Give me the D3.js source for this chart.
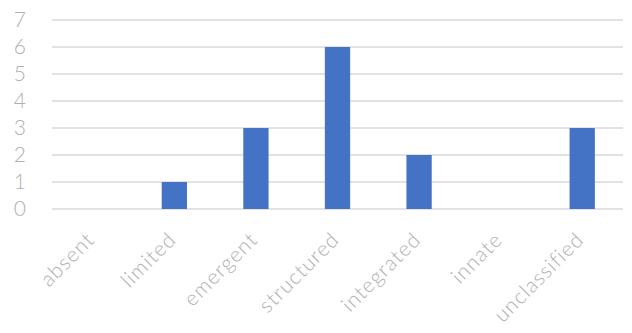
<!DOCTYPE html>
<html>
<head>
<meta charset="utf-8">
<script src="https://cdn.jsdelivr.net/npm/d3@7"></script>
<style>
  body { margin: 0; background: #fff; }
  text { font-family: "Lato", "Open Sans", sans-serif; font-weight: 300; }
</style>
</head>
<body>
<script>
var categories = ["absent", "limited", "emergent", "structured", "integrated", "innate", "unclassified"];
var counts = [0, 1, 3, 6, 2, 0, 3];
var yTicks = [0, 1, 2, 3, 4, 5, 6, 7];

var w = 632, h = 333;
var plotLeft = 52, plotRight = 623, plotTop = 20, plotBottom = 209;

var svg = d3.select("body").append("svg")
  .attr("width", w)
  .attr("height", h);

var x = d3.scaleBand().domain(categories).range([plotLeft, plotRight]).paddingInner(0.69).paddingOuter(0.345);
var y = d3.scaleLinear().domain([0, 7]).range([plotBottom, plotTop]);

// gridlines
svg.append("g").selectAll("line")
  .data(yTicks)
  .enter()
  .append("line")
  .attr("x1", plotLeft).attr("x2", plotRight)
  .attr("y1", function(d){ return y(d) }).attr("y2", function(d){ return y(d) })
  .attr("stroke", "#d9d9d9")
  .attr("stroke-width", 1.5);

// y labels
svg.append("g").selectAll("text")
  .data(yTicks)
  .enter()
  .append("text")
  .text(function(d){ return d })
  .attr("x", 26)
  .attr("y", function(d){ return y(d) + 7 })
  .attr("text-anchor", "end")
  .attr("font-size", 21)
  .attr("fill", "#b0b0b0");

// bars
svg.append("g").selectAll("rect")
  .data(counts)
  .enter()
  .append("rect")
  .attr("x", function(d, i){ return x(categories[i]) })
  .attr("width", x.bandwidth())
  .attr("y", function(d){ return y(d) })
  .attr("height", function(d){ return y(0) - y(d) })
  .attr("fill", "#4472c4");

// x labels
svg.append("g").selectAll("text")
  .data(categories)
  .enter()
  .append("text")
  .text(function(d){ return d })
  .attr("transform", function(d){ return "translate(" + (x(d) + x.bandwidth() / 2 + 3) + "," + 241 + ") rotate(-45)" })
  .attr("text-anchor", "end")
  .attr("font-size", 21)
  .attr("letter-spacing", 1)
  .attr("fill", "#b0b0b0");
</script>
</body>
</html>
